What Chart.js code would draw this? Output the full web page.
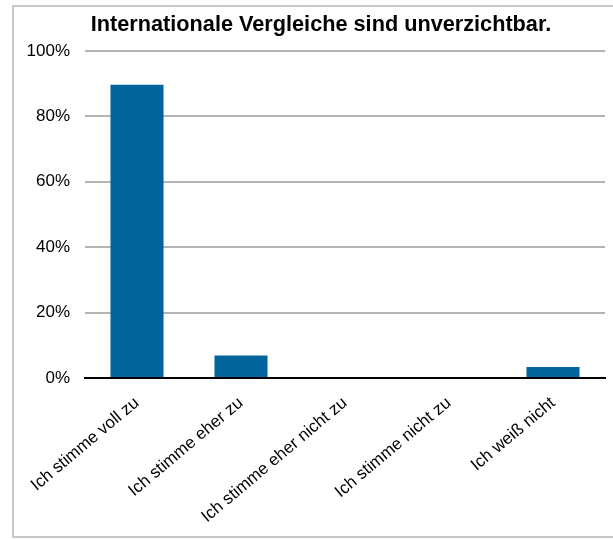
<!DOCTYPE html>
<html>
<head>
<meta charset="utf-8">
<script src="https://cdn.jsdelivr.net/npm/chart.js@4"></script>
<style>
  html, body { margin: 0; padding: 0; background: #fff; }
  #wrap { position: relative; width: 613px; height: 539px; }
  #frame {
    position: absolute; left: 12px; top: 5px; width: 620px; height: 533px;
    border: 2px solid #c8c8c8; box-sizing: border-box;
  }
  #title {
    position: absolute; left: 21px; width: 600px; top: 11px;
    text-align: center; font: bold 21.7px "Liberation Sans", Arial, sans-serif;
    line-height: 26px; color: #000; z-index: 2;
  }
  canvas { position: absolute; left: 0; top: 0; }
</style>
</head>
<body>
<div id="wrap">
  <div id="frame"></div>
  <canvas id="chart" width="613" height="539"></canvas>
  <div id="title">Internationale Vergleiche sind unverzichtbar.</div>
</div>
<script>
// Umfrage: Internationale Vergleiche
const categories = [
  "Ich stimme voll zu",
  "Ich stimme eher zu",
  "Ich stimme eher nicht zu",
  "Ich stimme nicht zu",
  "Ich weiß nicht"
];
const shares = [89.7, 6.9, 0, 0, 3.4];
const yTicks = [0, 20, 40, 60, 80, 100];

const ctx = document.getElementById("chart").getContext("2d");
new Chart(ctx, {
  type: "bar",
  data: {
    labels: categories,
    datasets: [{
      data: shares,
      backgroundColor: "#03649c",
      barPercentage: 0.51,
      categoryPercentage: 1
    }]
  },
  options: {
    responsive: false,
    animation: false,
    layout: { padding: { left: 12, right: 8, top: 51, bottom: 0 } },
    plugins: {
      legend: { display: false },
      tooltip: { enabled: false },
      title: { display: false }
    },
    scales: {
      x: {
        grid: { display: false, drawTicks: false },
        border: { color: "#000", width: 2 },
        ticks: {
          color: "#000",
          font: { family: "Liberation Sans", size: 17 },
          minRotation: 40,
          maxRotation: 40,
          padding: 15
        },
        afterFit: (scale) => { scale.height = 161; }
      },
      y: {
        min: 0,
        max: 100,
        afterBuildTicks: (scale) => {
          scale.ticks = yTicks.map((v) => ({ value: v }));
        },
        grid: { color: "#b4b4b4", lineWidth: 2, drawTicks: false },
        border: { display: false },
        ticks: {
          color: "#000",
          font: { family: "Liberation Sans", size: 17 },
          padding: 15,
          callback: (v) => v + "%"
        },
        afterFit: (scale) => { scale.width = 73; }
      }
    }
  }
});
</script>
</body>
</html>
